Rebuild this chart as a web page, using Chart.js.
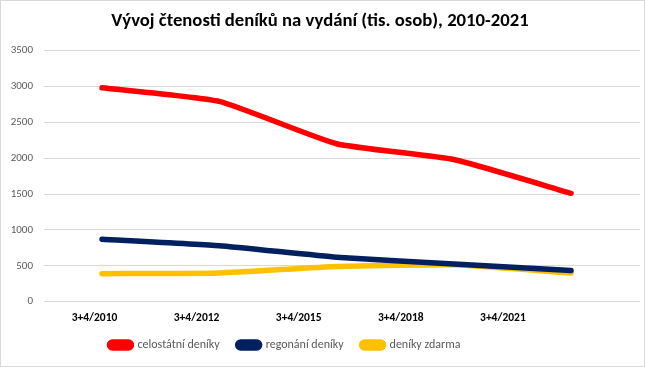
<!DOCTYPE html>
<html>
<head>
<meta charset="utf-8">
<script src="https://cdn.jsdelivr.net/npm/chart.js@4/dist/chart.umd.min.js"></script>
<style>
html,body{margin:0;padding:0;background:#fff;}
#wrap{width:645px;height:367px;position:relative;}
</style>
</head>
<body>
<div id="wrap"><canvas id="c" width="645" height="367"></canvas></div>
<script>
const categories = ["3+4/2010", "3+4/2012", "3+4/2015", "3+4/2018", "3+4/2021"];
const celostatni = [2980, 2790, 2200, 1980, 1510];
const regionalni = [870, 780, 620, 525, 435];
const zdarma = [390, 400, 490, 515, 400];
const yTicks = [0, 500, 1000, 1500, 2000, 2500, 3000, 3500];

const FONT = "Carlito, Lato, 'Open Sans', sans-serif";

const toPts = arr => arr.map((v, i) => ({x: i, y: v}));

const borderPlugin = {
  id: 'outerBorder',
  beforeDraw(chart) {
    const ctx = chart.ctx;
    ctx.save();
    ctx.fillStyle = '#fff';
    ctx.fillRect(0, 0, chart.width, chart.height);
    ctx.strokeStyle = '#d9d9d9';
    ctx.lineWidth = 1;
    ctx.strokeRect(0.5, 0.5, chart.width - 1, chart.height - 1);
    ctx.restore();
  },
  afterLayout(chart) {
    if (chart.legend) {
      chart.legend.left -= 35;
      chart.legend.right -= 35;
    }
  }
};

const ds = (label, data, color) => ({
  label, data: toPts(data), borderColor: color, backgroundColor: color,
  borderWidth: 5.5, pointRadius: 0, pointHoverRadius: 0, tension: 0.15,
  borderCapStyle: 'round', borderJoinStyle: 'round', fill: false, xAxisID: 'x'
});

new Chart(document.getElementById('c'), {
  type: 'line',
  data: {
    datasets: [
      ds('celostátní deníky', celostatni, '#ff0000'),
      ds('regonání deníky', regionalni, '#002060'),
      ds('deníky zdarma', zdarma, '#ffc000')
    ]
  },
  options: {
    responsive: false,
    animation: false,
    layout: {padding: {left: 0, right: 5, top: 0, bottom: 6}},
    plugins: {
      title: {
        display: true,
        text: 'Vývoj čtenosti deníků na vydání (tis. osob), 2010-2021',
        color: '#000',
        font: {family: FONT, size: 18.7, weight: 'bold'},
        padding: {top: 10, bottom: 18}
      },
      legend: {
        position: 'bottom',
        labels: {
          color: '#595959',
          font: {family: FONT, size: 12},
          boxWidth: 22, boxHeight: 6,
          useBorderRadius: true, borderRadius: 3,
          padding: 18
        }
      },
      tooltip: {enabled: false}
    },
    scales: {
      x: {
        type: 'linear', display: false,
        min: -0.4947, max: 4.588
      },
      xl: {
        type: 'linear', position: 'bottom',
        min: -0.4946, max: 5.343,
        afterBuildTicks(scale) { scale.ticks = categories.map((c, i) => ({value: i})); },
        afterFit(scale) { scale.height -= 14.5; },
        ticks: {
          autoSkip: false, maxRotation: 0,
          color: '#000', font: {family: FONT, size: 11.5, weight: 'bold'},
          padding: 10,
          callback: v => categories[v]
        },
        grid: {display: false, drawTicks: false},
        border: {display: false}
      },
      y: {
        min: 0, max: 3500,
        afterBuildTicks(scale) { scale.ticks = yTicks.map(v => ({value: v})); },
        afterFit(scale) { scale.width = 44; },
        ticks: {color: '#595959', font: {family: FONT, size: 11}, padding: 11, callback: v => String(v)},
        grid: {color: '#d9d9d9', lineWidth: 1, drawTicks: false},
        border: {display: false}
      }
    }
  },
  plugins: [borderPlugin]
});
</script>
</body>
</html>
